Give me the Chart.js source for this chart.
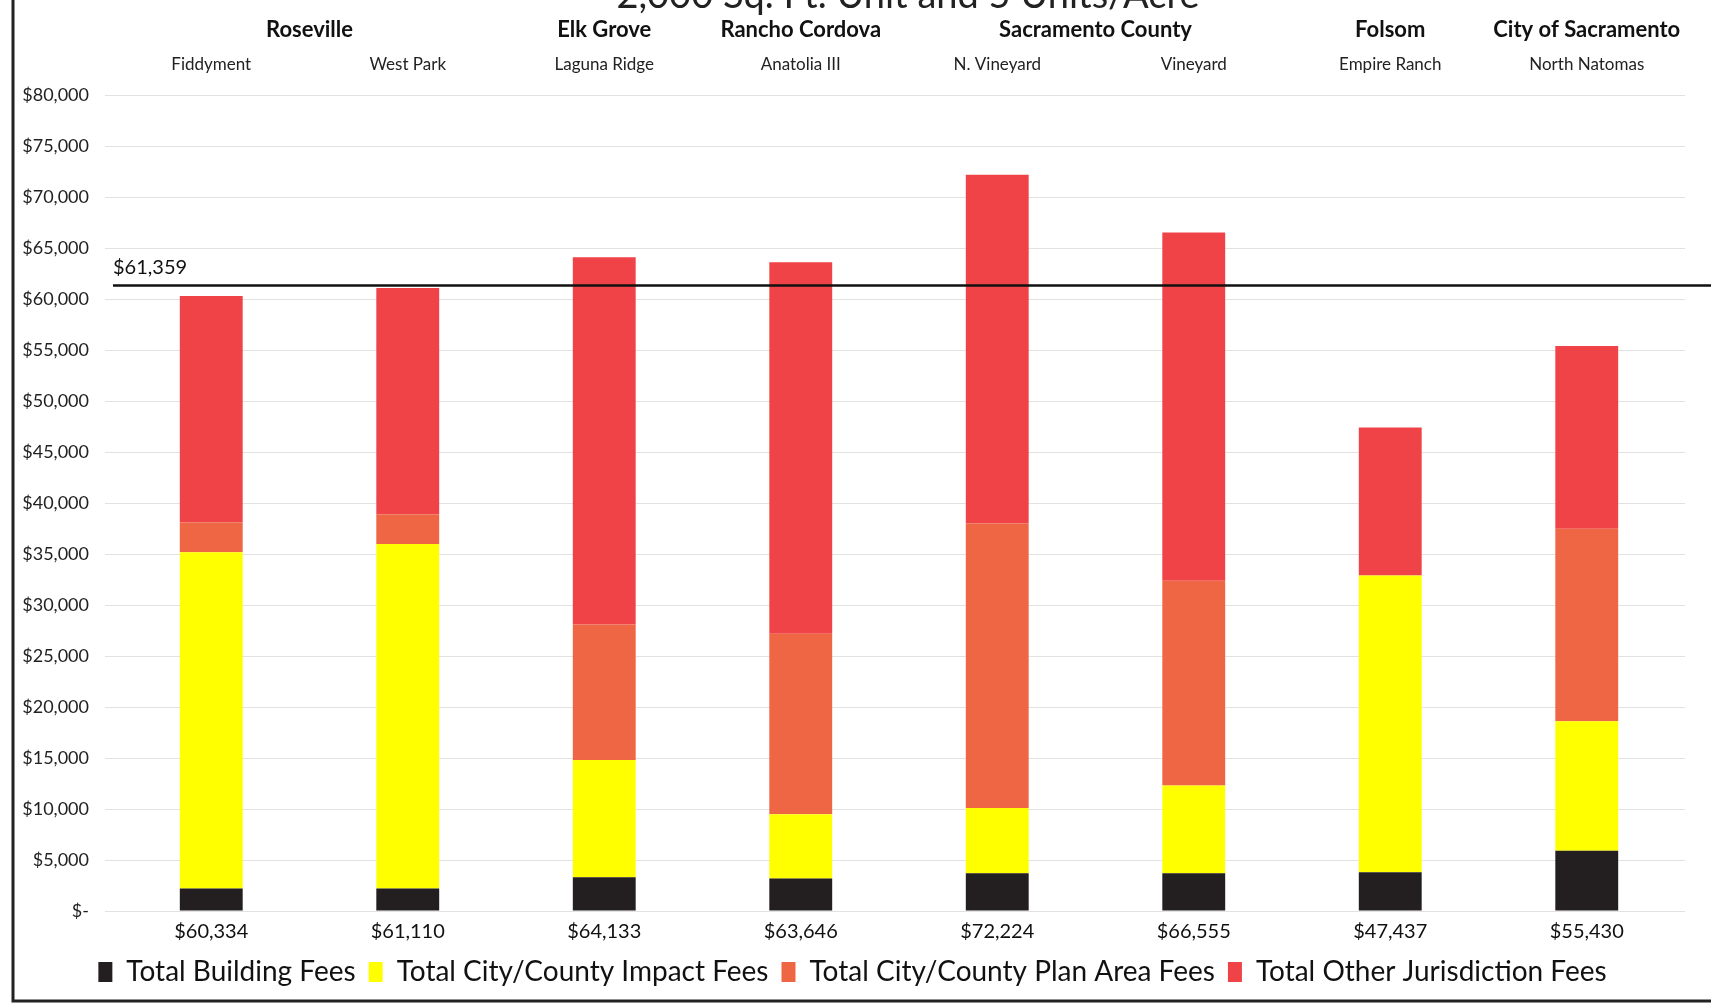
<!DOCTYPE html>
<html lang="en">
  <head>
    <meta charset="UTF-8" />
    <title>Development fees by plan area</title>
    <style>
      * {
        margin: 0;
        padding: 0;
        box-sizing: border-box;
      }
      body {
        background: white;
        overflow: hidden;
      }
      .chartBox {
        width: 1711px;
        height: 1005px;
        position: relative;
      }
    </style>
  </head>
  <body>
    <div class="chartBox">
      <canvas id="feeChart"></canvas>
    </div>

    <script src="https://cdn.jsdelivr.net/npm/chart.js"></script>

    <script>
      const areas = ["Fiddyment", "West Park", "Laguna Ridge", "Anatolia III", "N. Vineyard", "Vineyard", "Empire Ranch", "North Natomas"];
      const jurisdictions = ["Roseville", "Roseville", "Elk Grove", "Rancho Cordova", "Sacramento County", "Sacramento County", "Folsom", "City of Sacramento"];
      const totals = [60334, 61110, 64133, 63646, 72224, 66555, 47437, 55430];
      const buildingFees = [2200, 2200, 3300, 3200, 3700, 3700, 3800, 5900];
      const impactFees = [33000, 33800, 11500, 6300, 6400, 8600, 29100, 12700];
      const planAreaFees = [2900, 2900, 13300, 17700, 27900, 20100, 0, 18900];
      const otherFees = [22234, 22210, 36033, 36446, 34224, 34155, 14537, 17930];
      const averageFee = 61359;
      const chartTitle = "2,000 Sq. Ft. Unit and 5 Units/Acre";

      const FONT = "Lato, 'Open Sans', sans-serif";
      const money = (v) => "$" + v.toLocaleString("en-US");

      const ctx = document.getElementById("feeChart");

      const data = {
        labels: areas,
        datasets: [
          { label: "Total Building Fees", data: buildingFees, backgroundColor: "#231f20" },
          { label: "Total City/County Impact Fees", data: impactFees, backgroundColor: "#ffff00" },
          { label: "Total City/County Plan Area Fees", data: planAreaFees, backgroundColor: "#ee6643" },
          { label: "Total Other Jurisdiction Fees", data: otherFees, backgroundColor: "#f04348" },
        ],
      };

      // bold jurisdiction names above the plan area names, centred over their bars
      const jurisdictionLabels = {
        id: "jurisdictionLabels",
        afterDraw(chart) {
          const { ctx, scales } = chart;
          ctx.save();
          ctx.font = "bold 22px " + FONT;
          ctx.fillStyle = "#111";
          ctx.textAlign = "center";
          ctx.textBaseline = "middle";
          let i = 0;
          while (i < jurisdictions.length) {
            let j = i;
            while (j + 1 < jurisdictions.length && jurisdictions[j + 1] === jurisdictions[i]) j++;
            const x = (scales.x.getPixelForValue(i) + scales.x.getPixelForValue(j)) / 2;
            ctx.fillText(jurisdictions[i], x, 30);
            i = j + 1;
          }
          // title, cut off by the top of the page
          ctx.font = "38px " + FONT;
          ctx.textBaseline = "alphabetic";
          ctx.fillStyle = "#222";
          ctx.fillText(chartTitle, 908, 8);
          ctx.restore();
        },
      };

      const averageLine = {
        id: "averageLine",
        afterDatasetsDraw(chart) {
          const { ctx, scales, chartArea, width } = chart;
          const y = scales.y.getPixelForValue(averageFee);
          ctx.save();
          ctx.strokeStyle = "#111";
          ctx.lineWidth = 2.5;
          ctx.beginPath();
          ctx.moveTo(chartArea.left, y);
          ctx.lineTo(width, y);
          ctx.stroke();
          ctx.font = "20px " + FONT;
          ctx.fillStyle = "#111";
          ctx.textAlign = "left";
          ctx.textBaseline = "bottom";
          ctx.fillText(money(averageFee), chartArea.left, y - 8);
          ctx.restore();
        },
      };

      const frame = {
        id: "frame",
        afterDraw(chart) {
          const { ctx, width } = chart;
          ctx.save();
          ctx.strokeStyle = "#222";
          ctx.lineWidth = 3;
          ctx.beginPath();
          ctx.moveTo(13, 0);
          ctx.lineTo(13, 1001);
          ctx.lineTo(width, 1001);
          ctx.stroke();
          ctx.restore();
        },
      };

      const config = {
        type: "bar",
        data: data,
        options: {
          responsive: true,
          maintainAspectRatio: false,
          animation: false,
          layout: {
            padding: { top: 41, left: 20, right: 26, bottom: 9 },
          },
          datasets: {
            bar: { categoryPercentage: 1, barPercentage: 0.32 },
          },
          scales: {
            x: {
              stacked: true,
              position: "top",
              offset: true,
              grid: { display: false },
              border: { display: false },
              ticks: { font: { family: FONT, size: 17 }, color: "#222", padding: 13 },
            },
            x2: {
              type: "category",
              labels: totals.map(money),
              position: "bottom",
              offset: true,
              grid: { display: false },
              border: { display: false },
              ticks: { font: { family: FONT, size: 20 }, color: "#111", padding: 1 },
            },
            y: {
              stacked: true,
              min: 0,
              max: 80000,
              afterFit(scale) {
                scale.width = 93;
              },
              grid: { color: "#e2e2e2", lineWidth: 1 },
              border: { display: false },
              ticks: {
                stepSize: 5000,
                padding: 16,
                font: { family: FONT, size: 18 },
                color: "#222",
                callback: (v) => (v === 0 ? "$-" : money(v)),
              },
            },
          },
          plugins: {
            legend: {
              position: "bottom",
              labels: {
                font: { family: FONT, size: 28 },
                color: "#111",
                boxWidth: 14,
                boxHeight: 20,
                padding: 13,
              },
            },
            tooltip: { enabled: false },
          },
        },
        plugins: [jurisdictionLabels, averageLine, frame],
      };

      const feeChart = new Chart(ctx, config);
    </script>
  </body>
</html>
